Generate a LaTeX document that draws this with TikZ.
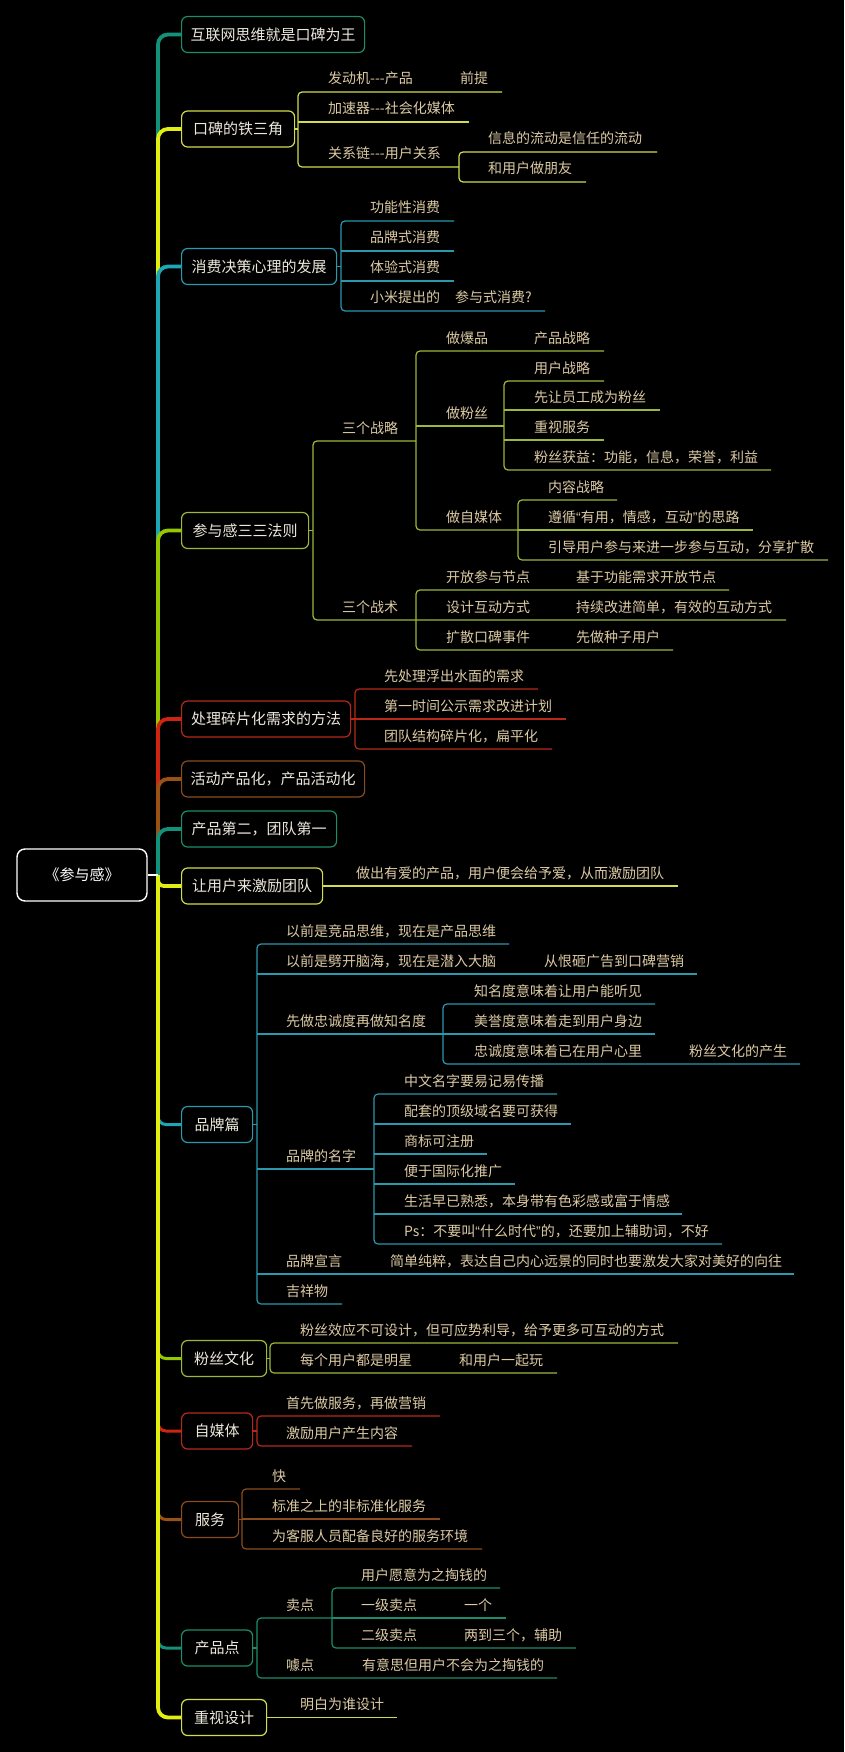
\documentclass[tikz,border=0pt]{standalone}
\usepackage{fontspec}
\newfontfamily\cjk{Noto Sans CJK SC}
\newfontfamily\lat{Liberation Sans}
\pgfdeclarelayer{back}\pgfdeclarelayer{lines}\pgfsetlayers{back,lines,main}
\definecolor{cY}{HTML}{D2DC4C}
\definecolor{tY}{HTML}{E2EE12}
\definecolor{cC}{HTML}{2A98AD}
\definecolor{tC}{HTML}{1CA6B6}
\definecolor{cG}{HTML}{9CB83A}
\definecolor{tG}{HTML}{96C800}
\definecolor{cR}{HTML}{B8281A}
\definecolor{tR}{HTML}{D02412}
\definecolor{cB}{HTML}{8A4C1E}
\definecolor{tB}{HTML}{9A5214}
\definecolor{cT}{HTML}{1C8C6C}
\definecolor{tT}{HTML}{12927A}
\definecolor{mtxt}{HTML}{ECE8DC}
\definecolor{stxt}{HTML}{DCCAA4}
\newcommand\mmsub[4]{\node[subtxt] (#1) at (#2,#3-8) {#4};}
\newcommand\mmlq{{\lat “}}
\newcommand\mmrq{{\lat ”}}
\begin{document}
\begin{tikzpicture}[x=1pt,y=-1pt,
  mainbox/.style={draw=#1, line width=1.2pt, rounded corners=6pt, fill=black, anchor=west, minimum height=36pt, inner sep=0pt, font=\cjk\fontsize{15}{18}\selectfont, text=mtxt},
  subtxt/.style={anchor=base west, inner sep=0pt, font=\cjk\fontsize{14}{17}\selectfont, text=stxt},
  ln/.style={draw=#1, line width=1.2pt, rounded corners=4pt},
  trunk/.style={draw=#1, line width=3.8pt, rounded corners=10pt},
]
\begin{pgfonlayer}{back}
\fill[black] (0,0) rectangle (844,1752);
\end{pgfonlayer}
\useasboundingbox (0,0) rectangle (844,1752);

% root and main boxes
\node[draw=white, line width=1.4pt, rounded corners=8pt, fill=black, minimum width=130pt, minimum height=52pt, text=white, font=\cjk\fontsize{15}{18}\selectfont] (root) at (82,875) {《参与感》};
\node[mainbox=cT, minimum width=183pt] (n1) at (181,34.5) {互联网思维就是口碑为王};
\node[mainbox=cY, minimum width=113pt] (n2) at (181,129) {口碑的铁三角};
\node[mainbox=cC, minimum width=155pt] (n3) at (181,266.5) {消费决策心理的发展};
\node[mainbox=cG, minimum width=127pt] (n4) at (181,530.5) {参与感三三法则};
\node[mainbox=cR, minimum width=169pt] (n5) at (181,719) {处理碎片化需求的方法};
\node[mainbox=cB, minimum width=183pt] (n6) at (181,779) {活动产品化，产品活动化};
\node[mainbox=cT, minimum width=155pt] (n7) at (181,829) {产品第二，团队第一};
\node[mainbox=cY, minimum width=141pt] (n8) at (181,886) {让用户来激励团队};
\node[mainbox=cC, minimum width=71pt] (n9) at (181,1124.5) {品牌篇};
\node[mainbox=cG, minimum width=85pt] (n10) at (181,1358.5) {粉丝文化};
\node[mainbox=cR, minimum width=71pt] (n11) at (181,1431) {自媒体};
\node[mainbox=cB, minimum width=57pt] (n12) at (181,1519.5) {服务};
\node[mainbox=cT, minimum width=71pt] (n13) at (181,1648) {产品点};
\node[mainbox=cY, minimum width=85pt] (n14) at (181,1717.5) {重视设计};

% sub topics
\mmsub{s1}{328}{92}{发动机---产品}
\mmsub{s2}{460}{92}{前提}
\mmsub{s3}{328}{122}{加速器---社会化媒体}
\mmsub{s4}{328}{167}{关系链---用户关系}
\mmsub{s5}{488}{152}{信息的流动是信任的流动}
\mmsub{s6}{488}{182}{和用户做朋友}
\mmsub{s7}{370}{221}{功能性消费}
\mmsub{s8}{370}{251}{品牌式消费}
\mmsub{s9}{370}{281}{体验式消费}
\mmsub{s10}{370}{311}{小米提出的}
\mmsub{s11}{455}{311}{参与式消费?}
\mmsub{s12}{342}{441}{三个战略}
\mmsub{s13}{342}{620}{三个战术}
\mmsub{s14}{446}{351}{做爆品}
\mmsub{s15}{534}{351}{产品战略}
\mmsub{s16}{446}{426}{做粉丝}
\mmsub{s17}{534}{381}{用户战略}
\mmsub{s18}{534}{410}{先让员工成为粉丝}
\mmsub{s19}{534}{440}{重视服务}
\mmsub{s20}{534}{470}{粉丝获益：功能，信息，荣誉，利益}
\mmsub{s21}{446}{530}{做自媒体}
\mmsub{s22}{548}{500}{内容战略}
\mmsub{s23}{548}{530}{遵循\mmlq 有用，情感，互动\mmrq 的思路}
\mmsub{s24}{548}{560}{引导用户参与来进一步参与互动，分享扩散}
\mmsub{s25}{446}{590}{开放参与节点}
\mmsub{s26}{576}{590}{基于功能需求开放节点}
\mmsub{s27}{446}{620}{设计互动方式}
\mmsub{s28}{576}{620}{持续改进简单，有效的互动方式}
\mmsub{s29}{446}{650}{扩散口碑事件}
\mmsub{s30}{576}{650}{先做种子用户}
\mmsub{s31}{384}{689}{先处理浮出水面的需求}
\mmsub{s32}{384}{719}{第一时间公示需求改进计划}
\mmsub{s33}{384}{749}{团队结构碎片化，扁平化}
\mmsub{s34}{356}{886}{做出有爱的产品，用户便会给予爱，从而激励团队}
\mmsub{s35}{286}{944}{以前是竞品思维，现在是产品思维}
\mmsub{s36}{286}{974}{以前是劈开脑海，现在是潜入大脑}
\mmsub{s37}{544}{974}{从恨砸广告到口碑营销}
\mmsub{s38}{286}{1034}{先做忠诚度再做知名度}
\mmsub{s39}{474}{1004}{知名度意味着让用户能听见}
\mmsub{s40}{474}{1034}{美誉度意味着走到用户身边}
\mmsub{s41}{474}{1064}{忠诚度意味着已在用户心里}
\mmsub{s42}{689}{1064}{粉丝文化的产生}
\mmsub{s43}{286}{1169}{品牌的名字}
\mmsub{s44}{404}{1094}{中文名字要易记易传播}
\mmsub{s45}{404}{1124}{配套的顶级域名要可获得}
\mmsub{s46}{404}{1154}{商标可注册}
\mmsub{s47}{404}{1184}{便于国际化推广}
\mmsub{s48}{404}{1214}{生活早已熟悉，本身带有色彩感或富于情感}
\mmsub{s49}{404}{1244}{Ps：不要叫\mmlq 什么时代\mmrq 的，还要加上辅助词，不好}
\mmsub{s50}{286}{1274}{品牌宣言}
\mmsub{s51}{390}{1274}{简单纯粹，表达自己内心远景的同时也要激发大家对美好的向往}
\mmsub{s52}{286}{1304}{吉祥物}
\mmsub{s53}{300}{1343}{粉丝效应不可设计，但可应势利导，给予更多可互动的方式}
\mmsub{s54}{300}{1373}{每个用户都是明星}
\mmsub{s55}{459}{1373}{和用户一起玩}
\mmsub{s56}{286}{1416}{首先做服务，再做营销}
\mmsub{s57}{286}{1446}{激励用户产生内容}
\mmsub{s58}{272}{1489}{快}
\mmsub{s59}{272}{1519}{标准之上的非标准化服务}
\mmsub{s60}{272}{1549}{为客服人员配备良好的服务环境}
\mmsub{s61}{286}{1618}{卖点}
\mmsub{s62}{361}{1588}{用户愿意为之掏钱的}
\mmsub{s63}{361}{1618}{一级卖点}
\mmsub{s64}{464}{1618}{一个}
\mmsub{s65}{361}{1648}{二级卖点}
\mmsub{s66}{464}{1648}{两到三个，辅助}
\mmsub{s67}{286}{1678}{噱点}
\mmsub{s68}{362}{1678}{有意思但用户不会为之掏钱的}
\mmsub{s69}{300}{1717}{明白为谁设计}

\begin{pgfonlayer}{lines}
% lower stubs (under the yellow trunk)
\draw[trunk=tC, line width=3pt, rounded corners=8pt] (n9.west) -- (158,1124.5) -- (158,1108);
\draw[trunk=tG, line width=3pt, rounded corners=8pt] (n10.west) -- (158,1358.5) -- (158,1342);
\draw[trunk=tR, line width=3pt, rounded corners=8pt] (n11.west) -- (158,1431) -- (158,1414);
\draw[trunk=tB, line width=3pt, rounded corners=8pt] (n12.west) -- (158,1519.5) -- (158,1503);
\draw[trunk=tT, line width=3pt, rounded corners=8pt] (n13.west) -- (158,1648) -- (158,1631);
% upper trunk
\draw[trunk=tT] (n1.west) -- (158,34.5) -- (158,140);
\draw[trunk=tY] (n2.west) -- (158,129) -- (158,277);
\draw[trunk=tC] (n3.west) -- (158,266.5) -- (158,541);
\draw[trunk=tG] (n4.west) -- (158,530.5) -- (158,730);
\draw[trunk=tR] (n5.west) -- (158,719) -- (158,790);
\draw[trunk=tB] (n6.west) -- (158,779) -- (158,840);
\draw[trunk=tT] (n7.west) -- (158,829) -- (158,876);
% lower trunk
\draw[trunk=tY] (158,875) -- (158,1717.5) -- (n14.west);
\draw[trunk=tY, rounded corners=6pt] (158,875) -- (158,886) -- (n8.west);
\draw[white, line width=1.4pt] (root.east) -- (158,875);

% branch 2
\draw[ln=cY] (n2.east) -- (298,129);
\draw[ln=cY] (502,92) -- (298,92) -- (298,167) -- (459,167);
\draw[ln=cY] (298,122) -- (469,122);
\draw[ln=cY] (657,152) -- (459,152) -- (459,182) -- (586,182);
% branch 3
\draw[ln=cC] (n3.east) -- (341,266.5);
\draw[ln=cC] (454,221) -- (341,221) -- (341,311) -- (545,311);
\draw[ln=cC] (341,251) -- (454,251);
\draw[ln=cC] (341,281) -- (454,281);
% branch 4
\draw[ln=cG] (n4.east) -- (313,530.5);
\draw[ln=cG] (416,441) -- (313,441) -- (313,620) -- (786,620);
\draw[ln=cG] (604,351) -- (416,351) -- (416,530) -- (518,530);
\draw[ln=cG] (416,426) -- (504,426);
\draw[ln=cG] (604,381) -- (504,381) -- (504,470) -- (771,470);
\draw[ln=cG] (504,410) -- (660,410);
\draw[ln=cG] (504,440) -- (604,440);
\draw[ln=cG] (617,500) -- (518,500) -- (518,560) -- (828,560);
\draw[ln=cG] (518,530) -- (753,530);
\draw[ln=cG] (729,590) -- (416,590) -- (416,650) -- (673,650);
% branch 5
\draw[ln=cR] (n5.east) -- (355,719);
\draw[ln=cR] (538,689) -- (355,689) -- (355,749) -- (552,749);
\draw[ln=cR] (355,719) -- (566,719);
% branch 8
\draw[ln=cY] (n8.east) -- (678,886);
% branch 9
\draw[ln=cC] (n9.east) -- (257,1124.5);
\draw[ln=cC] (509,944) -- (257,944) -- (257,1304) -- (342,1304);
\draw[ln=cC] (257,974) -- (697,974);
\draw[ln=cC] (257,1034) -- (655,1034);
\draw[ln=cC] (655,1004) -- (443,1004) -- (443,1064) -- (800,1064);
\draw[ln=cC] (257,1169) -- (374,1169);
\draw[ln=cC] (557,1094) -- (374,1094) -- (374,1244) -- (722,1244);
\draw[ln=cC] (374,1124) -- (571,1124);
\draw[ln=cC] (374,1154) -- (487,1154);
\draw[ln=cC] (374,1184) -- (515,1184);
\draw[ln=cC] (374,1214) -- (682,1214);
\draw[ln=cC] (257,1274) -- (794,1274);
% branch 10
\draw[ln=cG] (n10.east) -- (270,1358.5);
\draw[ln=cG] (678,1343) -- (270,1343) -- (270,1373) -- (557,1373);
% branch 11
\draw[ln=cR] (n11.east) -- (257,1431);
\draw[ln=cR] (440,1416) -- (257,1416) -- (257,1446) -- (412,1446);
% branch 12
\draw[ln=cB] (n12.east) -- (242,1519.5);
\draw[ln=cB] (300,1489) -- (242,1489) -- (242,1549) -- (482,1549);
\draw[ln=cB] (242,1519) -- (440,1519);
% branch 13
\draw[ln=cT] (n13.east) -- (257,1648);
\draw[ln=cT] (332,1618) -- (257,1618) -- (257,1678) -- (557,1678);
\draw[ln=cT] (500,1588) -- (332,1588) -- (332,1648) -- (576,1648);
\draw[ln=cT] (332,1618) -- (506,1618);
% branch 14
\draw[ln=cY] (n14.east) -- (397,1717.5);
\end{pgfonlayer}
\end{tikzpicture}
\end{document}
